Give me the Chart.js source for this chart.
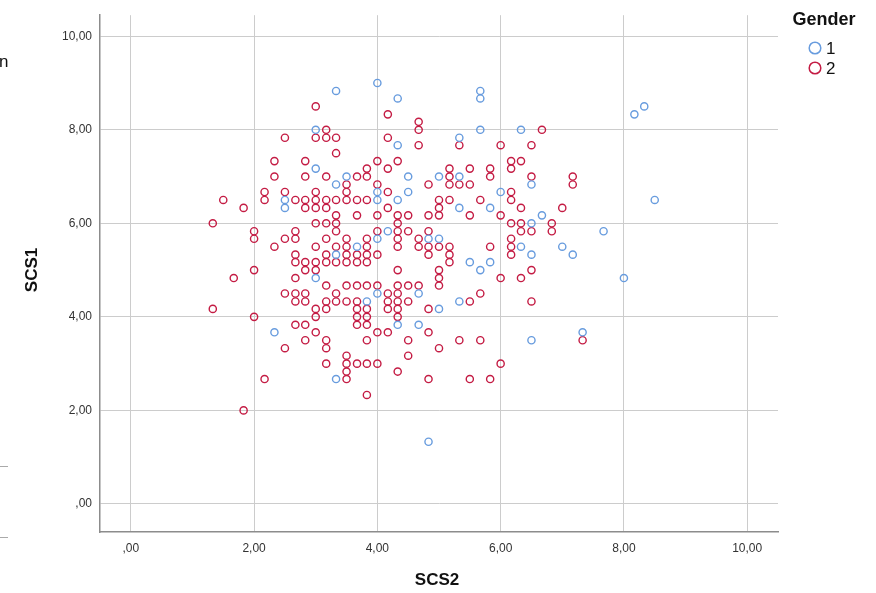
<!DOCTYPE html>
<html>
<head>
<meta charset="utf-8">
<script src="https://cdn.jsdelivr.net/npm/chart.js@4"></script>
<style>
  html, body { margin: 0; padding: 0; background: #fff; }
  #wrap { width: 876px; height: 593px; }
</style>
</head>
<body>
<div id="wrap"><canvas id="chart" width="876" height="593"></canvas></div>
<script>
const xTicks = [0, 2, 4, 6, 8, 10];
const yTicks = [0, 2, 4, 6, 8, 10];
const groups = ['1', '2'];

// Gender 1 (SCS2, SCS1)
const g1X = [3.33, 4.0, 4.33, 3.0, 3.0, 3.5, 3.33, 2.5, 2.5, 5.67, 5.67, 5.67, 4.33, 5.33, 4.5, 4.0, 4.33, 4.5, 5.0, 5.33,
  6.0, 8.17, 8.33, 6.33, 6.5, 8.5, 3.67, 3.33, 3.0, 4.0, 5.33, 5.83, 4.17, 4.0, 4.83, 5.0, 5.5, 5.83, 5.67, 4.0,
  4.67, 5.33, 3.83, 5.0, 4.67, 6.67, 6.5, 7.67, 6.33, 6.5, 7.0, 7.17, 8.0, 2.33, 3.33, 4.33, 4.83, 6.5, 7.33];
const g1Y = [8.83, 9.0, 8.67, 8.0, 7.17, 7.0, 6.83, 6.5, 6.33, 8.83, 8.67, 8.0, 7.67, 7.83, 7.0, 6.67, 6.5, 6.67, 7.0, 7.0,
  6.67, 8.33, 8.5, 8.0, 6.83, 6.5, 5.5, 5.33, 4.83, 6.5, 6.33, 6.33, 5.83, 5.67, 5.67, 5.67, 5.17, 5.17, 5.0, 4.5,
  4.5, 4.33, 4.33, 4.17, 3.83, 6.17, 6.0, 5.83, 5.5, 5.33, 5.5, 5.33, 4.83, 3.67, 2.67, 3.83, 1.33, 3.5, 3.67];

// Gender 2 (SCS2, SCS1), one line per SCS1 level
const g2X = [
  3.0,
  4.17,
  4.67,
  3.17, 4.67, 6.67,
  2.5, 3.0, 3.17, 3.33, 4.17,
  4.67, 5.33, 6.0, 6.5,
  3.33,
  2.33, 2.83, 4.0, 4.33, 6.17, 6.33,
  3.83, 4.17, 5.17, 5.5, 5.83, 6.17,
  2.33, 2.83, 3.17, 3.67, 3.83, 5.17, 5.83, 6.5, 7.17,
  3.5, 4.0, 4.83, 5.17, 5.33, 5.5, 7.17,
  2.17, 2.5, 3.0, 3.5, 4.17, 6.17,
  1.5, 2.17, 2.67, 2.83, 3.0, 3.17, 3.33, 3.5, 3.67, 3.83, 5.0, 5.17, 5.67, 6.17,
  1.83, 2.83, 3.0, 3.17, 4.17, 5.0, 6.33, 7.0,
  3.33, 3.67, 4.0, 4.33, 4.5, 4.83, 5.0, 5.5, 6.0,
  1.33, 3.0, 3.17, 3.33, 4.33, 6.17, 6.33, 6.83,
  2.0, 2.67, 3.33, 4.0, 4.33, 4.5, 4.83, 6.33, 6.5, 6.83,
  2.0, 2.5, 2.67, 3.17, 3.5, 3.83, 4.33, 4.67, 6.17,
  2.33, 3.0, 3.33, 3.5, 3.83, 4.33, 4.67, 4.83, 5.0, 5.17, 5.83, 6.17,
  2.67, 3.17, 3.5, 3.67, 3.83, 4.0, 4.83, 5.17, 6.17,
  2.67, 2.83, 3.0, 3.17, 3.33, 3.5, 3.67, 3.83, 5.17,
  2.0, 2.83, 3.0, 4.33, 5.0, 6.5,
  1.67, 2.67, 5.0, 6.0, 6.33,
  3.17, 3.5, 3.67, 3.83, 4.0, 4.33, 4.5, 4.67, 5.0,
  2.5, 2.67, 2.83, 3.33, 4.17, 4.33, 5.67,
  2.67, 2.83, 3.17, 3.33, 3.5, 3.67, 4.17, 4.33, 4.5, 5.5, 6.5,
  1.33, 3.0, 3.17, 3.67, 3.83, 4.17, 4.33, 4.83,
  2.0, 3.0, 3.67, 3.83, 4.33,
  2.67, 2.83, 3.67, 3.83,
  3.0, 4.0, 4.17, 4.83,
  2.83, 3.17, 3.83, 4.5, 5.33, 5.67, 7.33,
  2.5, 3.17, 5.0,
  3.5, 4.5,
  3.17, 3.5, 3.67, 3.83, 4.0, 6.0,
  3.5, 4.33,
  2.17, 3.5, 4.83, 5.5, 5.83,
  3.83,
  1.83
];
const g2Y = [
  8.5,
  8.33,
  8.17,
  8.0, 8.0, 8.0,
  7.83, 7.83, 7.83, 7.83, 7.83,
  7.67, 7.67, 7.67, 7.67,
  7.5,
  7.33, 7.33, 7.33, 7.33, 7.33, 7.33,
  7.17, 7.17, 7.17, 7.17, 7.17, 7.17,
  7.0, 7.0, 7.0, 7.0, 7.0, 7.0, 7.0, 7.0, 7.0,
  6.83, 6.83, 6.83, 6.83, 6.83, 6.83, 6.83,
  6.67, 6.67, 6.67, 6.67, 6.67, 6.67,
  6.5, 6.5, 6.5, 6.5, 6.5, 6.5, 6.5, 6.5, 6.5, 6.5, 6.5, 6.5, 6.5, 6.5,
  6.33, 6.33, 6.33, 6.33, 6.33, 6.33, 6.33, 6.33,
  6.17, 6.17, 6.17, 6.17, 6.17, 6.17, 6.17, 6.17, 6.17,
  6.0, 6.0, 6.0, 6.0, 6.0, 6.0, 6.0, 6.0,
  5.83, 5.83, 5.83, 5.83, 5.83, 5.83, 5.83, 5.83, 5.83, 5.83,
  5.67, 5.67, 5.67, 5.67, 5.67, 5.67, 5.67, 5.67, 5.67,
  5.5, 5.5, 5.5, 5.5, 5.5, 5.5, 5.5, 5.5, 5.5, 5.5, 5.5, 5.5,
  5.33, 5.33, 5.33, 5.33, 5.33, 5.33, 5.33, 5.33, 5.33,
  5.17, 5.17, 5.17, 5.17, 5.17, 5.17, 5.17, 5.17, 5.17,
  5.0, 5.0, 5.0, 5.0, 5.0, 5.0,
  4.83, 4.83, 4.83, 4.83, 4.83,
  4.67, 4.67, 4.67, 4.67, 4.67, 4.67, 4.67, 4.67, 4.67,
  4.5, 4.5, 4.5, 4.5, 4.5, 4.5, 4.5,
  4.33, 4.33, 4.33, 4.33, 4.33, 4.33, 4.33, 4.33, 4.33, 4.33, 4.33,
  4.17, 4.17, 4.17, 4.17, 4.17, 4.17, 4.17, 4.17,
  4.0, 4.0, 4.0, 4.0, 4.0,
  3.83, 3.83, 3.83, 3.83,
  3.67, 3.67, 3.67, 3.67,
  3.5, 3.5, 3.5, 3.5, 3.5, 3.5, 3.5,
  3.33, 3.33, 3.33,
  3.17, 3.17,
  3.0, 3.0, 3.0, 3.0, 3.0, 3.0,
  2.83, 2.83,
  2.67, 2.67, 2.67, 2.67, 2.67,
  2.33,
  2.0
];

const blue = 'rgb(104,156,222)';
const red = 'rgb(196,28,68)';

function fmt(v) {
  return v === 0 ? ',00' : v.toFixed(2).replace('.', ',');
}

function toPoints(xs, ys) {
  return xs.map((x, i) => ({ x: x, y: ys[i] }));
}

// legend, axis titles and the cut-off bits on the left of the screenshot
const extras = {
  id: 'extras',
  afterDraw(chart) {
    const { ctx } = chart;
    ctx.save();
    ctx.fillStyle = '#111';
    ctx.textAlign = 'center';
    ctx.textBaseline = 'middle';
    ctx.font = 'bold 17px "Liberation Sans", Arial, sans-serif';
    ctx.fillText('SCS2', 437, 580);
    ctx.save();
    ctx.translate(32, 270);
    ctx.rotate(-Math.PI / 2);
    ctx.fillText('SCS1', 0, 0);
    ctx.restore();

    ctx.font = 'bold 18px "Liberation Sans", Arial, sans-serif';
    ctx.fillText('Gender', 824, 20);
    ctx.font = '17px "Liberation Sans", Arial, sans-serif';
    ctx.textAlign = 'left';
    [blue, red].forEach((c, i) => {
      const y = 48 + i * 20;
      ctx.beginPath();
      ctx.arc(815, y, 5.8, 0, Math.PI * 2);
      ctx.strokeStyle = c;
      ctx.lineWidth = 1.5;
      ctx.stroke();
      ctx.fillText(groups[i], 826, y + 1);
    });

    ctx.font = '17px "Liberation Sans", Arial, sans-serif';
    ctx.fillText('n', -1, 62);
    ctx.strokeStyle = '#aaa';
    ctx.lineWidth = 1;
    ctx.beginPath();
    ctx.moveTo(0, 466.5); ctx.lineTo(8, 466.5);
    ctx.moveTo(0, 537.5); ctx.lineTo(8, 537.5);
    ctx.stroke();
    ctx.restore();
  },
};

const tickFont = { family: '"Liberation Sans", Arial, sans-serif', size: 12 };

const config = {
  type: 'scatter',
  data: {
    datasets: [
      {
        label: groups[0],
        data: toPoints(g1X, g1Y),
        borderColor: blue,
        backgroundColor: 'rgba(0,0,0,0)',
        pointRadius: 3.6,
        pointBorderWidth: 1.4,
      },
      {
        label: groups[1],
        data: toPoints(g2X, g2Y),
        borderColor: red,
        backgroundColor: 'rgba(0,0,0,0)',
        pointRadius: 3.6,
        pointBorderWidth: 1.4,
      },
    ],
  },
  options: {
    responsive: false,
    animation: false,
    events: [],
    layout: { padding: { top: 8, right: 98, left: 0, bottom: 0 } },
    scales: {
      x: {
        type: 'linear',
        min: -0.5,
        max: 10.5,
        afterBuildTicks: (scale) => { scale.ticks = xTicks.map((v) => ({ value: v })); },
        afterFit: (scale) => { scale.height = 61; },
        grid: { color: '#cccccc', drawTicks: false },
        border: { color: '#8c8c8c', width: 1.5 },
        ticks: { color: '#333', font: tickFont, padding: 9, maxRotation: 0, callback: (v) => fmt(v) },
      },
      y: {
        type: 'linear',
        min: -0.6,
        max: 10.45,
        afterBuildTicks: (scale) => { scale.ticks = yTicks.map((v) => ({ value: v })); },
        afterFit: (scale) => { scale.width = 100; },
        grid: { color: '#cccccc', drawTicks: false },
        border: { color: '#8c8c8c', width: 1.5 },
        ticks: { color: '#333', font: tickFont, padding: 8, callback: (v) => fmt(v) },
      },
    },
    plugins: {
      legend: { display: false },
      tooltip: { enabled: false },
    },
  },
  plugins: [extras],
};

new Chart(document.getElementById('chart'), config);
</script>
</body>
</html>
